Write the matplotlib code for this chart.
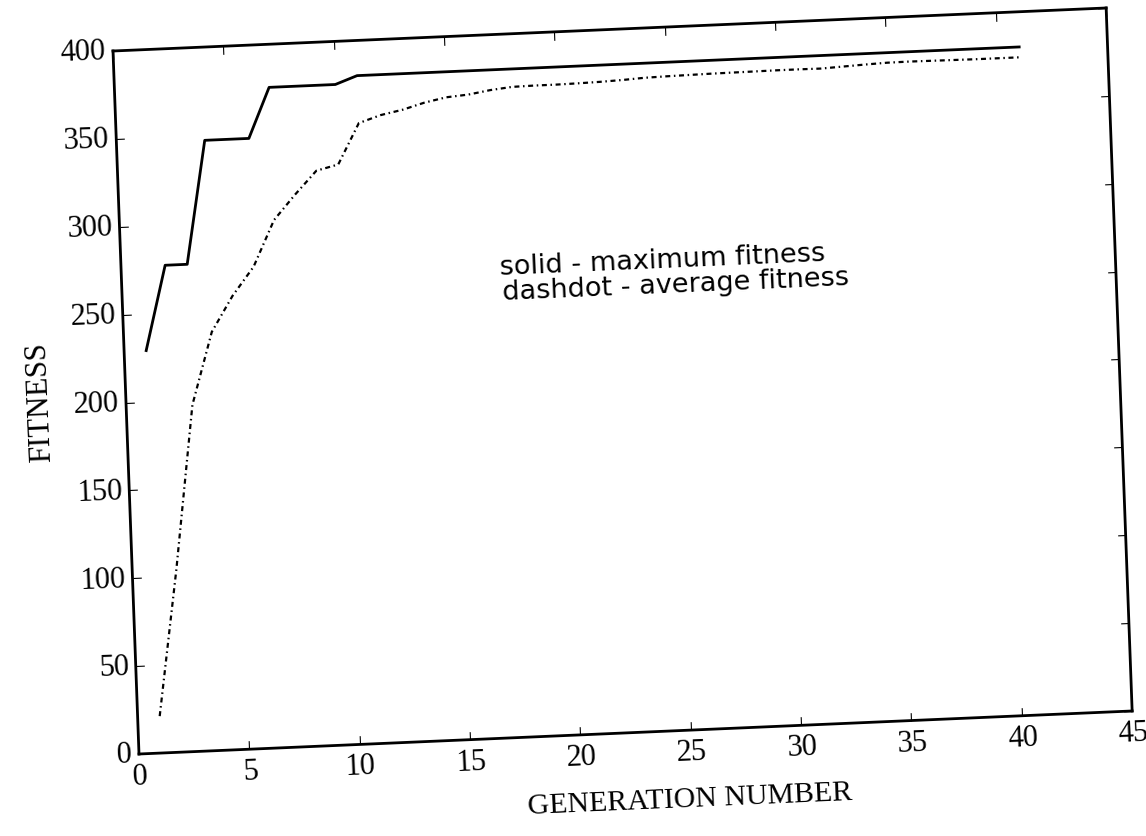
import numpy as np
import matplotlib
matplotlib.use("Agg")
import matplotlib.pyplot as plt
from matplotlib.transforms import Affine2D
from mpl_toolkits.axisartist import floating_axes
from mpl_toolkits.axisartist.grid_finder import FixedLocator, DictFormatter

# ---------------- data ----------------
generation = list(range(1, 42))
max_fitness = [229, 277, 277, 347, 347, 347, 375.5, 375.5, 375.5, 375.5,
               380, 380, 380, 380, 380, 380, 380, 380, 380, 380,
               380, 380, 380, 380, 380, 380, 380, 380, 380, 380,
               380, 380, 380, 380, 380, 380, 380, 380, 380, 380, 380]
avg_fitness = [21, 104, 197, 238, 258, 274, 300, 314, 327, 330,
               353, 357, 359.5, 363, 365.5, 366.5, 368.5, 369.8, 370, 370,
               370.2, 370.5, 371, 371.7, 372, 372.2, 372.4, 372.5, 372.6, 372.7,
               372.7, 372.6, 373.2, 373.8, 374.3, 374.4, 374.3, 374.2, 374.1, 374.1, 374.1]
x_ticks = [0, 5, 10, 15, 20, 25, 30, 35, 40, 45]
y_ticks = [0, 50, 100, 150, 200, 250, 300, 350, 400]
x_label = "GENERATION NUMBER"
y_label = "FITNESS"
note_lines = ["solid - maximum fitness", "dashdot - average fitness"]

# ---------------- style ----------------
W, H = 1146, 837
plt.rcParams['font.family'] = ['Liberation Serif', 'DejaVu Serif']
plt.rcParams['font.size'] = 21
plt.rcParams['lines.scale_dashes'] = False

# scanned page is slightly rotated: affine map from data to figure pixels
tr = Affine2D(np.array([[22.07, -0.065, 139.0],
                        [0.956, 1.7575, 82.0],
                        [0.0, 0.0, 1.0]]))
angle = np.degrees(np.arctan2(0.956, 22.07))

grid_helper = floating_axes.GridHelperCurveLinear(
    tr, extremes=(0, 45, 0, 400),
    grid_locator1=FixedLocator(x_ticks),
    grid_locator2=FixedLocator(y_ticks),
    tick_formatter1=DictFormatter({v: str(v) for v in x_ticks}),
    tick_formatter2=DictFormatter({v: str(v) for v in y_ticks}))

fig = plt.figure(figsize=(W / 100, H / 100), dpi=100)
fig.patch.set_facecolor('white')
ax = fig.add_axes([0, 0, 1, 1], axes_class=floating_axes.FloatingAxes,
                  grid_helper=grid_helper)
ax.set_xlim(0, W)
ax.set_ylim(0, H)
ax.patch.set_facecolor('white')

for side in ["left", "right", "top", "bottom"]:
    a = ax.axis[side]
    a.line.set_linewidth(2.0)
    a.major_ticks.set_tick_out(False)
    a.major_ticks.set_ticksize(6)
    a.major_ticks.set_linewidth(1.5)
    a.major_ticklabels.set_fontsize(22)
ax.axis["bottom"].major_ticklabels.set_pad(6)
ax.axis["left"].major_ticklabels.set_pad(5)

aux = ax.get_aux_axes(tr)
aux.plot(generation, max_fitness, color='black', lw=2.0, ls='-')
aux.plot(generation, avg_fitness, color='black', lw=1.6,
         ls=(0, (3.6, 2.6, 1.1, 2.6)))

aux.text(17.15, 267.5, note_lines[0], rotation=angle, rotation_mode='anchor',
         ha='left', va='center', fontsize=19.5, family='DejaVu Sans')
aux.text(17.2, 253.5, note_lines[1], rotation=angle, rotation_mode='anchor',
         ha='left', va='center', fontsize=19.5, family='DejaVu Sans')

fig.text(40 / W, 435 / H, y_label, rotation=90 + angle, rotation_mode='anchor',
         ha='center', va='center', fontsize=22)
fig.text(690 / W, 37 / H, x_label, rotation=angle, rotation_mode='anchor',
         ha='center', va='center', fontsize=21.5)

fig.savefig("out.png", dpi=100)
